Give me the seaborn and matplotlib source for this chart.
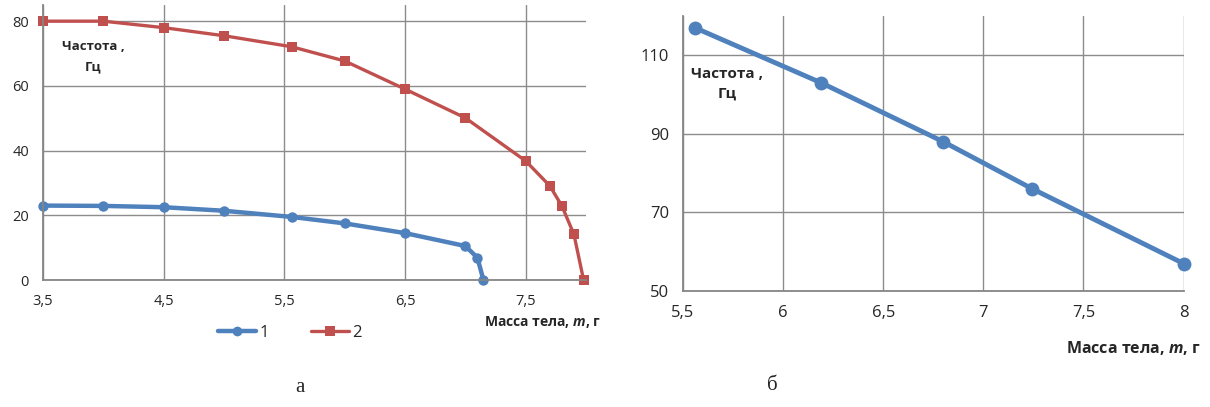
import pandas as pd
import matplotlib.pyplot as plt
import seaborn as sns

# panel а: два режима
m1 = [3.5, 4.0, 4.5, 5.0, 5.56, 6.0, 6.5, 7.0, 7.1, 7.15]
f1 = [23.0, 22.9, 22.5, 21.4, 19.5, 17.5, 14.5, 10.5, 6.9, 0.0]
m2 = [3.5, 4.0, 4.5, 5.0, 5.56, 6.0, 6.5, 7.0, 7.5, 7.7, 7.8, 7.9, 7.98]
f2 = [80.0, 80.0, 78.0, 75.5, 72.1, 67.7, 59.0, 50.1, 36.8, 29.1, 22.9, 14.1, 0.0]
series_names = ['1', '2']

# panel б
m3 = [5.56, 6.19, 6.8, 7.245, 8.0]
f3 = [117.0, 103.0, 88.0, 76.0, 57.0]

left_xticks = [3.5, 4.5, 5.5, 6.5, 7.5]
left_yticks = [0, 20, 40, 60, 80]
right_xticks = [5.5, 6, 6.5, 7, 7.5, 8]
right_yticks = [50, 70, 90, 110]

BLUE = '#4F81BD'
RED = '#C0504D'
GRID = '#8c8c8c'

sns.set_style('white')
plt.rcParams['font.family'] = ['Open Sans', 'DejaVu Sans']
plt.rcParams['mathtext.fontset'] = 'custom'
plt.rcParams['mathtext.bfit'] = 'Open Sans:italic:bold'
plt.rcParams['mathtext.it'] = 'Open Sans:italic'


def comma(v):
    s = f'{v:g}'
    return s.replace('.', ',')


def style_axes(ax, xticks, yticks, fs):
    ax.set_xticks(xticks)
    ax.set_yticks(yticks)
    ax.set_xticklabels([comma(v) for v in xticks], fontsize=fs)
    ax.set_yticklabels([comma(v) for v in yticks], fontsize=fs)
    ax.grid(True, color=GRID, linewidth=1.0)
    ax.set_axisbelow(True)
    for s in ['top', 'right']:
        ax.spines[s].set_visible(False)
    for s in ['left', 'bottom']:
        ax.spines[s].set_color('#868686')
        ax.spines[s].set_linewidth(1.3)
    ax.tick_params(length=4, width=1, color='#868686', pad=6)
    ax.set_xlabel('')
    ax.set_ylabel('')
    for ln in ax.lines:
        ln.set_clip_on(False)


fig = plt.figure(figsize=(12.1, 4.07), dpi=100)
ax1 = fig.add_axes([43 / 1210, 1 - 280 / 407, (586 - 43) / 1210, 275 / 407])
ax2 = fig.add_axes([683 / 1210, 1 - 291 / 407, (1183.5 - 683) / 1210, 275 / 407])

df = pd.concat([
    pd.DataFrame({'m': m1, 'f': f1, 's': series_names[0]}),
    pd.DataFrame({'m': m2, 'f': f2, 's': series_names[1]}),
])
sns.lineplot(data=df, x='m', y='f', hue='s', style='s', sort=False,
             markers={'1': 'o', '2': 's'}, dashes=False,
             palette={'1': BLUE, '2': RED}, markersize=7.5, markeredgewidth=0,
             ax=ax1, legend=False)
ax1.lines[0].set_linewidth(3.2)
ax1.lines[1].set_linewidth(2.4)
ax1.set_xlim(3.5, 8.0)
ax1.set_ylim(0, 85)
style_axes(ax1, left_xticks, left_yticks, 10.5)
fig.text(0.077, 1 - 40 / 407, 'Частота ,\nГц', ha='center',
         va='top', fontsize=9.5, fontweight='bold', linespacing=1.7)
fig.text(0.497, 1 - 322 / 407, r'Масса тела, $\mathbfit{m}$, г', ha='right',
         va='center', fontsize=10, fontweight='bold')

handles = [plt.Line2D([], [], color=BLUE, lw=3.2, marker='o', ms=7, mew=0),
           plt.Line2D([], [], color=RED, lw=2.4, marker='s', ms=7, mew=0)]
fig.legend(handles, series_names, loc='center', ncol=2,
           bbox_to_anchor=(290 / 1210, 1 - 333 / 407), frameon=False,
           fontsize=12, handlelength=2.3, handletextpad=0.2, columnspacing=2.5)

sns.lineplot(x=m3, y=f3, color=BLUE, marker='o', markersize=10,
             markeredgewidth=0, linewidth=3.5, sort=False, ax=ax2)
ax2.set_xlim(5.5, 8.0)
ax2.set_ylim(50, 120)
style_axes(ax2, right_xticks, right_yticks, 12)
fig.text(0.601, 1 - 84 / 407, 'Частота ,\nГц', ha='center', va='center',
         fontsize=11, fontweight='bold', linespacing=1.5)
fig.text(0.992, 1 - 348 / 407, r'Масса тела, $\mathbfit{m}$, г', ha='right',
         va='center', fontsize=11.5, fontweight='bold')

fig.text(300 / 1210, 1 - 388 / 407, 'а', ha='center', va='center',
         fontsize=15, family='Liberation Serif')
fig.text(772 / 1210, 1 - 386 / 407, 'б', ha='center', va='center',
         fontsize=15, family='Liberation Serif')

fig.savefig('out.png', dpi=100)
